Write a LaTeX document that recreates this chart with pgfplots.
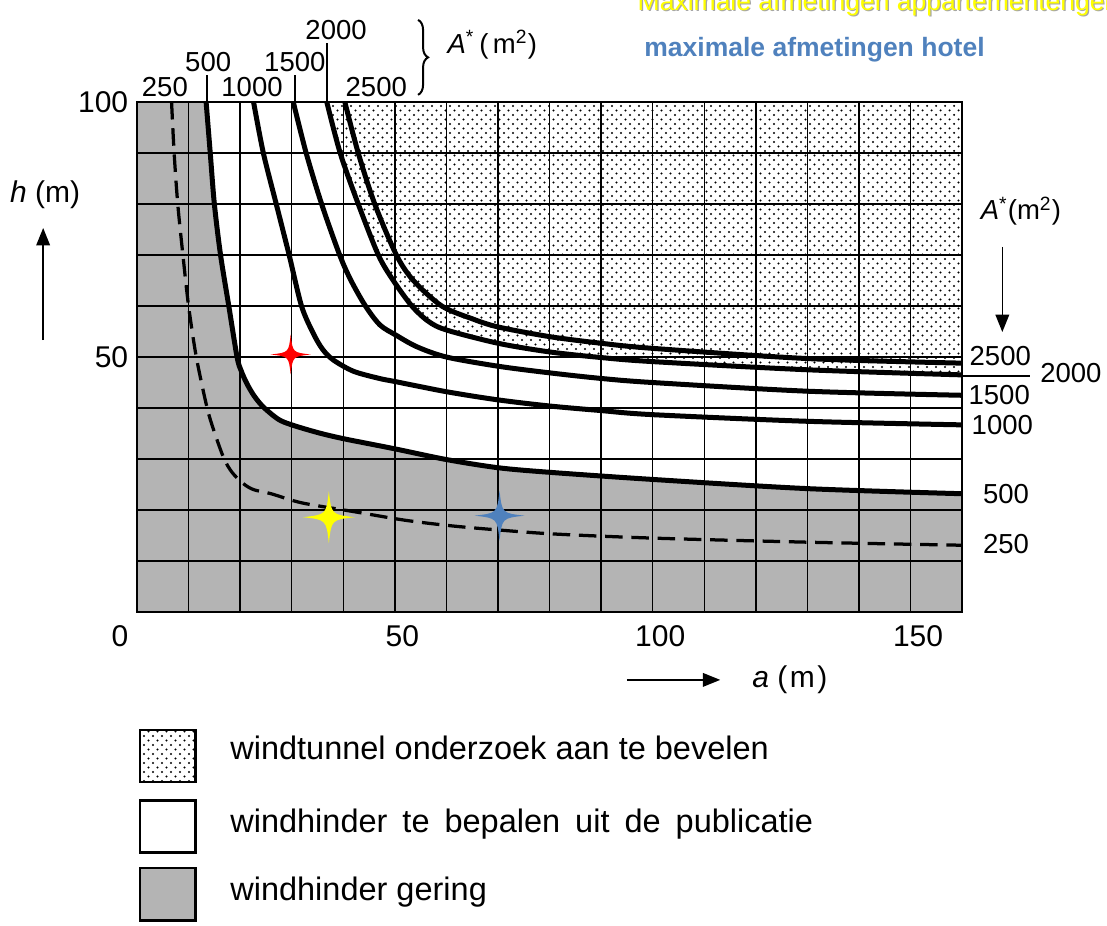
\documentclass[border=0pt]{standalone}
\usepackage{fontspec}
\setmainfont{Liberation Sans}
\usepackage{pgfplots}
\usepackage{pgfplotstable}
\pgfplotsset{compat=1.18}
\usetikzlibrary{patterns,decorations.pathreplacing,arrows.meta}
\definecolor{hotelblue}{RGB}{79,129,189}
\definecolor{apyellow}{RGB}{255,255,0}
\definecolor{dense}{RGB}{180,180,180}

\pgfdeclarepatternformonly{sparsedots}{\pgfqpoint{-1pt}{-1pt}}{\pgfqpoint{5pt}{5pt}}{\pgfqpoint{3.6pt}{3.6pt}}{%
  \pgfpathcircle{\pgfqpoint{0pt}{0pt}}{0.45pt}%
  \pgfpathcircle{\pgfqpoint{1.8pt}{1.8pt}}{0.45pt}%
  \pgfusepath{fill}}

\pgfdeclareplotmark{sparkle}{%
  \pgfpathmoveto{\pgfqpoint{0pt}{\pgfplotmarksize}}%
  \pgfpathcurveto{\pgfqpoint{0.1\pgfplotmarksize}{0.1\pgfplotmarksize}}{\pgfqpoint{0.1\pgfplotmarksize}{0.1\pgfplotmarksize}}{\pgfqpoint{\pgfplotmarksize}{0pt}}%
  \pgfpathcurveto{\pgfqpoint{0.1\pgfplotmarksize}{-0.1\pgfplotmarksize}}{\pgfqpoint{0.1\pgfplotmarksize}{-0.1\pgfplotmarksize}}{\pgfqpoint{0pt}{-\pgfplotmarksize}}%
  \pgfpathcurveto{\pgfqpoint{-0.1\pgfplotmarksize}{-0.1\pgfplotmarksize}}{\pgfqpoint{-0.1\pgfplotmarksize}{-0.1\pgfplotmarksize}}{\pgfqpoint{-\pgfplotmarksize}{0pt}}%
  \pgfpathcurveto{\pgfqpoint{-0.1\pgfplotmarksize}{0.1\pgfplotmarksize}}{\pgfqpoint{-0.1\pgfplotmarksize}{0.1\pgfplotmarksize}}{\pgfqpoint{0pt}{\pgfplotmarksize}}%
  \pgfpathclose
  \pgfusepathqfill}

% A* = 250 (dashed)
\pgfplotstableread{
a h
6.7 100
7.2 90
7.9 80
8.9 70
10.0 60
11.5 50
13.6 40
15.1 35
16.9 30
18.5 27.3
20.6 25.2
22.6 24.0
26 23.2
32 21.4
42 19.7
52 18.0
61 16.9
70 16.1
81 15.3
100 14.5
130 13.7
160 13.1
}\tabA
% A* = 500
\pgfplotstableread{
a h
13.4 100
14.2 90
15.0 80
16.2 70
17.8 60
19.4 50
20.2 47.3
21.3 44.8
22.7 42.4
24.5 40.2
27.4 37.8
30 36.7
35 35.2
40 34.0
50 32.0
60 29.9
70 28.3
80 27.4
100 26.0
130 24.2
160 23.2
}\tabB
% A* = 1000
\pgfplotstableread{
a h
22.6 100
24.5 90
27.0 80
29.5 70
31.9 60
34.2 54.6
36.0 51.5
38.1 49.4
42 47.2
47 45.8
50 45.2
60 43.2
70 41.6
80 40.4
90 39.5
100 38.7
130 37.4
160 36.7
}\tabC
% A* = 1500
\pgfplotstableread{
a h
30.3 100
32.8 90
35.8 80
39.3 70
41.5 65
44.3 60
47.1 56.3
50.2 54.3
54.3 52
60 50.0
70 48.2
80 46.9
90 45.8
100 45.0
130 43.3
160 42.5
}\tabD
% A* = 2000
\pgfplotstableread{
a h
36.8 100
39.4 90
42.9 80
46.8 70
49.7 65
53.3 60
56.5 57
60 55.3
70 52.7
80 51.0
90 49.9
100 49.1
130 47.5
160 46.5
}\tabE
% A* = 2500
\pgfplotstableread{
a h
40.3 100
42.9 90
46.1 80
50.3 70
53.6 65
59.1 60
65 57.5
70 55.9
80 54.0
90 52.7
100 51.7
130 49.7
160 48.8
}\tabF

\begin{document}
\begin{tikzpicture}
\begin{axis}[
  scale only axis, width=330pt, height=204pt,
  xmin=0, xmax=160, ymin=0, ymax=100,
  xtick={0,10,...,160}, ytick={0,10,...,100},
  xticklabels={,,,,,50,,,,,100,,,,,150,},
  yticklabels={,,,,,50,,,,,100},
  xticklabel style={xshift=3pt, yshift=-2pt},
  tick label style={font=\fontsize{12}{14}\selectfont},
  grid=major, major grid style={black, line width=0.55pt},
  major tick length=0pt,
  axis line style={line width=1.1pt},
  clip=false, set layers,
]
% regions
\addplot[on layer=axis background, pattern=sparsedots, draw=none] coordinates {(0,100) (160,100)} \closedcycle;
\addplot[on layer=axis background, fill=white, draw=none] coordinates {(0,100) (36.9,100)} \closedcycle;
\addplot[on layer=axis background, fill=white, draw=none, smooth] table[x=a,y=h] {\tabE} \closedcycle;
\addplot[on layer=axis background, fill=dense, draw=none] coordinates {(0,100) (13.8,100)} \closedcycle;
\addplot[on layer=axis background, fill=dense, draw=none, smooth] table[x=a,y=h] {\tabB} \closedcycle;
% curves
\addplot[smooth, black, line width=1.3pt, dash pattern=on 7pt off 3.5pt] table[x=a,y=h] {\tabA};
\addplot[smooth, black, line width=2pt] table[x=a,y=h] {\tabB};
\addplot[smooth, black, line width=2pt] table[x=a,y=h] {\tabC};
\addplot[smooth, black, line width=2pt] table[x=a,y=h] {\tabD};
\addplot[smooth, black, line width=2pt] table[x=a,y=h] {\tabE};
\addplot[smooth, black, line width=2pt] table[x=a,y=h] {\tabF};
% stars
\addplot[only marks, mark=sparkle, mark size=8pt, color=red] coordinates {(29.8,50.5)};
\addplot[only marks, mark=sparkle, mark size=10.4pt, color=apyellow] coordinates {(37.2,18.6)};
\addplot[only marks, mark=sparkle, mark size=10pt, color=hotelblue] coordinates {(70.3,18.9)};

% top labels
\begin{scope}[every node/.style={font=\fontsize{11}{13}\selectfont, inner sep=0pt}]
\node at (axis cs:5.4,102.9) {250};
\node at (axis cs:13.8,107.9) {500};
\node at (axis cs:22.3,102.9) {1000};
\node at (axis cs:30.6,107.9) {1500};
\node at (axis cs:38.6,114.1) {2000};
\node at (axis cs:46.4,102.9) {2500};
\node at (axis cs:68.9,111.2) {\textit{A}\textsuperscript{*}\,(\,m\textsuperscript{2})};
% right labels
\node at (axis cs:171.4,78.6) {\textit{A}\textsuperscript{*}(m\textsuperscript{2})};
\node at (axis cs:167.4,50.2) {2500};
\node at (axis cs:181.1,46.9) {2000};
\node at (axis cs:167.2,42.5) {1500};
\node at (axis cs:167.8,36.7) {1000};
\node at (axis cs:168.5,23.1) {500};
\node at (axis cs:168.5,13.3) {250};
\end{scope}
\draw[line width=0.6pt] (axis cs:13.6,100) -- (axis cs:13.6,105.2);
\draw[line width=0.6pt] (axis cs:30.6,100) -- (axis cs:30.6,105.2);
\draw[line width=0.6pt] (axis cs:36.85,100) -- (axis cs:36.85,111.6);
\draw[line width=0.6pt] (axis cs:160,46.3) -- (axis cs:173.2,46.3);
\draw[line width=0.8pt, decorate, decoration={brace, amplitude=4pt}] (axis cs:54.5,116.1) -- (axis cs:54.5,101.4);

% axis descriptions
\node[font=\fontsize{12}{14}\selectfont] at (axis cs:-3.3,-4.7) {0};
\node[font=\fontsize{12}{14}\selectfont] at (axis cs:-17.8,81.8) {\textit{h} (m)};
\draw[line width=0.6pt, -{Triangle[length=7pt,width=5.5pt]}] (axis cs:-18.2,53.3) -- (axis cs:-18.2,75.3);
\draw[line width=0.6pt, -{Triangle[length=7pt,width=5.5pt]}] (axis cs:167.8,71.6) -- (axis cs:167.8,54.9);
\draw[line width=0.6pt, -{Triangle[length=7pt,width=5.5pt]}] (axis cs:95,-13.3) -- (axis cs:113.1,-13.3);
\node[font=\fontsize{12}{14}\selectfont] at (axis cs:126.6,-13.3) {\textit{a} (\kern1pt m\kern1pt)};

% legend
\draw[line width=1.1pt, pattern=sparsedots] (axis cs:0.6,-23.1) rectangle (axis cs:11.4,-33.3);
\draw[line width=1.1pt, fill=white] (axis cs:0.6,-36.9) rectangle (axis cs:11.4,-47.1);
\draw[line width=1.1pt, fill=dense] (axis cs:0.6,-50.2) rectangle (axis cs:11.4,-60.4);
\begin{scope}[every node/.style={font=\fontsize{13}{15}\selectfont, anchor=mid west, inner sep=0pt}]
\node at (axis cs:18,-27.6) {windtunnel onderzoek aan te bevelen};
\node at (axis cs:18,-42.0) {\spaceskip=6pt\relax windhinder te bepalen uit de publicatie};
\node at (axis cs:18,-55.3) {windhinder gering};
\end{scope}

% annotations
\node[anchor=base west, inner sep=0pt, font=\fontsize{10.6}{12}\selectfont\bfseries, text=hotelblue] at (axis cs:98.3,108.9) {maximale afmetingen hotel};
\node[anchor=base west, inner sep=0pt, font=\fontsize{10.6}{12}\selectfont, text=black!35] at ([xshift=0.5pt,yshift=-0.5pt]axis cs:97.0,118.0) {Maximale afmetingen appartementengebouw};
\node[anchor=base west, inner sep=0pt, font=\fontsize{10.6}{12}\selectfont, text=apyellow] at (axis cs:97.0,118.0) {Maximale afmetingen appartementengebouw};

\coordinate (bbll) at (axis cs:-26.57,-61.37);
\coordinate (bbur) at (axis cs:188.1,120);
\end{axis}
\pgfresetboundingbox
\path[use as bounding box] (bbll) rectangle (bbur);
\end{tikzpicture}
\end{document}
